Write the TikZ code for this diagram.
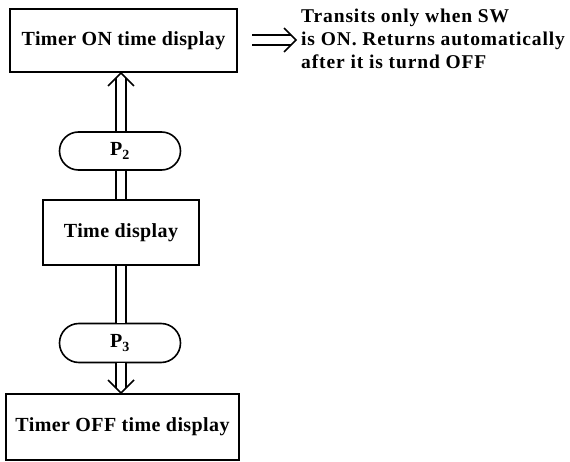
\documentclass[tikz,border=0pt]{standalone}
\usepackage{fontspec}
\setmainfont{Liberation Serif}
\newfontfamily\boxfont[LetterSpace=2]{Liberation Serif}
\newfontfamily\notefont[LetterSpace=4.5]{Liberation Serif}
\usetikzlibrary{arrows.meta,shapes.misc}
\begin{document}
\begin{tikzpicture}[x=1pt,y=-1pt,
  box/.style={draw,line width=1.6pt,rectangle,inner sep=0pt,font=\boxfont\bfseries\fontsize{20}{22}\selectfont},
  pill/.style={draw,line width=1.6pt,rounded rectangle,inner sep=0pt,font=\boxfont\bfseries\fontsize{20}{22}\selectfont},
  dbl/.style={double,double distance=8.5pt,line width=1.5pt},
  chev/.style={line width=1.6pt,line join=miter},
  note/.style={align=left,anchor=north west,inner sep=0pt,font=\notefont\bfseries\fontsize{19.5}{23}\selectfont}]
\useasboundingbox (0,0) rectangle (570,462);
\node[box,minimum width=227pt,minimum height=63pt] (on) at (123.5,40.5) {Timer ON time display};
\node[pill,minimum width=121pt,minimum height=38pt] (p2) at (120,151) {P\textsubscript{2}};
\node[box,minimum width=156pt,minimum height=65pt] (td) at (121,232.5) {Time display};
\node[pill,minimum width=121pt,minimum height=39pt] (p3) at (120,343) {P\textsubscript{3}};
\node[box,minimum width=233pt,minimum height=66pt] (off) at (122.5,427) {Timer OFF time display};
\node[note] (txt) at (301,9) {Transits only when SW\\is ON. Returns automatically\\after it is turnd OFF};
% horizontal implication arrow
\coordinate (ae) at (252,40);
\coordinate (ab) at (296,40);
\draw[dbl] (ae) -- ([shift={(-5,0)}]ab);
\draw[chev] ([shift={(-12,-12)}]ab) -- (ab) -- ([shift={(-12,12)}]ab);
% up arrow P2 -> ON
\coordinate (t1) at (121,73);
\draw[dbl] (p2.north -| t1) -- ([shift={(0,5)}]t1);
\draw[chev] ([shift={(-13,13)}]t1) -- (t1) -- ([shift={(13,13)}]t1);
% links
\draw[dbl] (td.north -| t1) -- (p2.south -| t1);
\draw[dbl] (td.south -| t1) -- (p3.north -| t1);
% down arrow P3 -> OFF
\coordinate (t2) at (121,393);
\draw[dbl] (p3.south -| t2) -- ([shift={(0,-5)}]t2);
\draw[chev] ([shift={(-13,-13)}]t2) -- (t2) -- ([shift={(13,-13)}]t2);
\end{tikzpicture}
\end{document}
